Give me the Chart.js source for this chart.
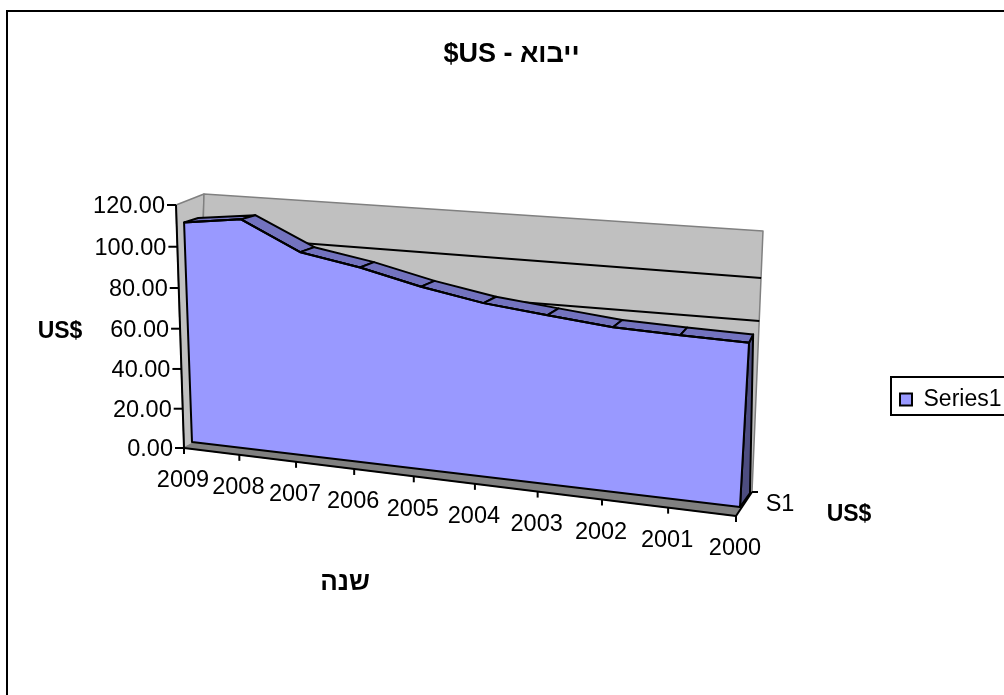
<!DOCTYPE html>
<html>
<head>
<meta charset="utf-8">
<script src="https://cdn.jsdelivr.net/npm/chart.js@4"></script>
<style>
  html, body { margin: 0; padding: 0; background: #fff; overflow: hidden; }
  canvas { display: block; }
</style>
</head>
<body>
<canvas id="chart" width="1004" height="695"></canvas>
<script>
const years = ['2009', '2008', '2007', '2006', '2005', '2004', '2003', '2002', '2001', '2000'];
const importValues = [111, 114.5, 100.8, 95.7, 88.9, 83.6, 80.5, 77.5, 76.5, 75.9];
const yTicks = [0, 20, 40, 60, 80, 100, 120];
const gridTicks = [80, 100];
const seriesName = 'Series1';
const depthName = 'S1';
const titleText = '$US - ייבוא';
const xTitle = 'שנה';
const yTitle = 'US$';
const zTitle = 'US$';

const FONT = '"Liberation Sans", Arial, sans-serif';

// corners of each 3d plane on the page: bottom left, bottom right, top right, top left
const axisPlane = [[184, 448], [736, 516], [750, 245], [176, 205]];
const wallPlane = [[197, 441], [752, 492], [763, 231], [204, 194]];
const gridPlane = [[197, 441], [752, 492], [763, 235], [204, 194]];
const frontPlane = [[192, 442], [740, 507], [754.5, 243], [183.4, 204]];
const backPlane = [[206, 434], [750, 493], [755, 240], [197.5, 200]];

// unit square -> quad, perspective
function planePoint(q, u, t) {
    const [x0, y0] = q[0], [x1, y1] = q[1], [x2, y2] = q[2], [x3, y3] = q[3];
    const dx1 = x1 - x2, dx2 = x3 - x2, sx = x0 - x1 + x2 - x3;
    const dy1 = y1 - y2, dy2 = y3 - y2, sy = y0 - y1 + y2 - y3;
    const den = dx1 * dy2 - dx2 * dy1;
    const g = (sx * dy2 - dx2 * sy) / den;
    const h = (dx1 * sy - sx * dy1) / den;
    const w = g * u + h * t + 1;
    return {
        x: ((x1 - x0 + g * x1) * u + (x3 - x0 + h * x3) * t + x0) / w,
        y: ((y1 - y0 + g * y1) * u + (y3 - y0 + h * y3) * t + y0) / w
    };
}

// goes through the chart's own scales, then onto the plane
function project(chart, plane, index, value) {
    const xs = chart.scales.x, ys = chart.scales.y;
    const u = (xs.getPixelForValue(index) - xs.left) / (xs.right - xs.left);
    const t = (ys.bottom - ys.getPixelForValue(value)) / (ys.bottom - ys.top);
    return planePoint(plane, u, t);
}

function poly(ctx, pts, fill, stroke, lw) {
    ctx.beginPath();
    pts.forEach((p, i) => i ? ctx.lineTo(p.x, p.y) : ctx.moveTo(p.x, p.y));
    ctx.closePath();
    if (fill) { ctx.fillStyle = fill; ctx.fill(); }
    if (stroke) { ctx.strokeStyle = stroke; ctx.lineWidth = lw; ctx.lineJoin = 'round'; ctx.stroke(); }
}

function seg(ctx, a, b, color, lw) {
    ctx.beginPath();
    ctx.moveTo(a.x, a.y);
    ctx.lineTo(b.x, b.y);
    ctx.strokeStyle = color;
    ctx.lineWidth = lw;
    ctx.stroke();
}

function label(ctx, text, x, y, font, align) {
    ctx.font = font;
    ctx.fillStyle = '#000';
    ctx.textAlign = align || 'center';
    ctx.textBaseline = 'middle';
    ctx.fillText(text, x, y + 2);
}

const PLAIN = '23.5px ' + FONT;
const BOLD = 'bold 23px ' + FONT;
const BOLD_HE = 'bold 26px ' + FONT;

const area3d = {
    id: 'area3d',
    afterLayout(chart) {
        // legend sits against the right edge, halfway down
        const leg = chart.legend;
        leg.left = 890; leg.right = 1004; leg.top = 378; leg.bottom = 414;
        leg.width = 114; leg.height = 36;
        leg.adjustHitBoxes();
    },
    afterDatasetsUpdate(chart) {
        const meta = chart.getDatasetMeta(0);
        meta.data.forEach((pt, i) => {
            const p = project(chart, frontPlane, i, importValues[i]);
            pt.x = p.x;
            pt.y = p.y;
        });
    },
    beforeDraw(chart) {
        const ctx = chart.ctx;
        ctx.save();
        ctx.fillStyle = '#000';
        ctx.fillRect(6, 10, 998, 2);
        ctx.fillRect(6, 10, 2, 685);
        // legend frame, right side runs off the page
        ctx.fillRect(890, 376, 114, 2);
        ctx.fillRect(890, 414, 114, 2);
        ctx.fillRect(890, 376, 2, 40);
        ctx.restore();
    },
    beforeDatasetsDraw(chart) {
        const ctx = chart.ctx;
        const last = years.length - 1, top = 120;
        ctx.save();

        // walls and floor
        const wbl = project(chart, wallPlane, 0, 0), wbr = project(chart, wallPlane, last, 0);
        const wtl = project(chart, wallPlane, 0, top), wtr = project(chart, wallPlane, last, top);
        const abl = project(chart, axisPlane, 0, 0), abr = project(chart, axisPlane, last, 0);
        const atl = project(chart, axisPlane, 0, top);
        poly(ctx, [atl, wtl, wbl, abl], '#c0c0c0', '#808080', 1.5);
        poly(ctx, [wtl, wtr, wbr, wbl], '#c0c0c0', '#808080', 1.5);
        poly(ctx, [abl, wbl, wbr, abr], '#808080', '#808080', 1);

        gridTicks.forEach(v => {
            seg(ctx, project(chart, gridPlane, 0, v), project(chart, gridPlane, last, v), '#000', 2);
        });

        // right end of the area
        poly(ctx, [
            project(chart, frontPlane, last, 0),
            project(chart, frontPlane, last, importValues[last]),
            project(chart, backPlane, last, importValues[last]),
            project(chart, backPlane, last, 0)
        ], '#4d4d80', '#000', 2);

        // top faces between the years
        for (let i = 0; i < last; i++) {
            poly(ctx, [
                project(chart, frontPlane, i, importValues[i]),
                project(chart, frontPlane, i + 1, importValues[i + 1]),
                project(chart, backPlane, i + 1, importValues[i + 1]),
                project(chart, backPlane, i, importValues[i])
            ], '#7373bf', '#000', 2);
        }

        // front face
        const front = importValues.map((v, i) => project(chart, frontPlane, i, v));
        front.push(project(chart, frontPlane, last, 0), project(chart, frontPlane, 0, 0));
        poly(ctx, front, '#9999ff', '#000', 2);
        ctx.restore();
    },
    afterDatasetsDraw(chart) {
        const ctx = chart.ctx;
        const last = years.length - 1, top = 120;
        ctx.save();

        // y axis
        seg(ctx, project(chart, axisPlane, 0, 0), project(chart, axisPlane, 0, top), '#000', 2);
        yTicks.forEach(v => {
            const p = project(chart, axisPlane, 0, v);
            seg(ctx, p, { x: p.x - 9, y: p.y }, '#000', 2);
            label(ctx, v.toFixed(2), p.x - 11, p.y, PLAIN, 'right');
        });

        // x axis
        seg(ctx, project(chart, axisPlane, 0, 0), project(chart, axisPlane, last, 0), '#000', 2);
        years.forEach((yr, i) => {
            const p = project(chart, axisPlane, i, 0);
            seg(ctx, p, { x: p.x, y: p.y + 6 }, '#000', 2);
            label(ctx, yr, p.x - 1, p.y + 31, PLAIN);
        });

        // depth axis
        const d0 = project(chart, axisPlane, last, 0), d1 = project(chart, wallPlane, last, 0);
        seg(ctx, d0, d1, '#000', 2);
        seg(ctx, d1, { x: d1.x + 6, y: d1.y }, '#000', 2);
        label(ctx, depthName, 780, 503, PLAIN);

        label(ctx, xTitle, 345, 581, BOLD_HE);
        label(ctx, yTitle, 60, 330, BOLD);
        label(ctx, zTitle, 849, 513, BOLD);
        ctx.restore();
    }
};

new Chart(document.getElementById('chart'), {
    type: 'line',
    plugins: [area3d],
    data: {
        labels: years,
        datasets: [{
            label: seriesName,
            data: importValues,
            backgroundColor: '#9999ff',
            borderColor: '#000',
            borderWidth: 2,
            pointRadius: 0,
            tension: 0,
            fill: false,
            clip: false
        }]
    },
    options: {
        responsive: false,
        animation: false,
        devicePixelRatio: 1,
        layout: { padding: { left: 19 } },
        scales: {
            x: { type: 'category', display: false },
            y: { type: 'linear', min: 0, max: 120, display: false }
        },
        plugins: {
            tooltip: { enabled: false },
            title: {
                display: true,
                text: titleText,
                color: '#000',
                font: { family: FONT, size: 27, weight: 'bold' },
                padding: { top: 38, bottom: 10 }
            },
            legend: {
                position: 'right',
                align: 'start',
                labels: {
                    boxWidth: 12,
                    boxHeight: 12,
                    padding: 10,
                    color: '#000',
                    font: { family: FONT, size: 23 }
                }
            }
        }
    }
});
</script>
</body>
</html>
